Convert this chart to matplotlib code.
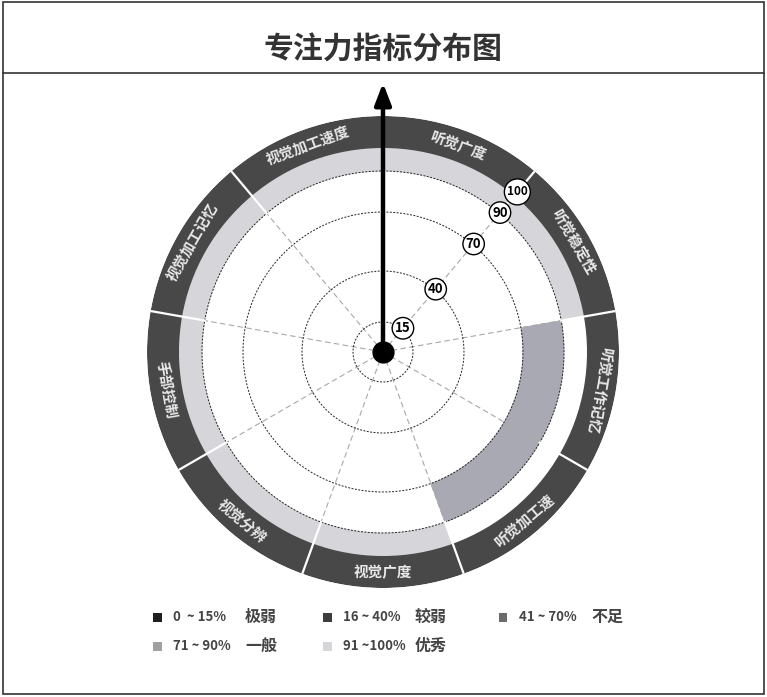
import numpy as np
import matplotlib.pyplot as plt
from matplotlib.patches import Rectangle
from matplotlib.lines import Line2D

plt.rcParams['font.family'] = ['Noto Sans CJK SC', 'DejaVu Sans']

# categories clockwise from 12 o'clock
categories = ['听觉广度', '听觉稳定性', '听觉工作记忆', '听觉加工速', '视觉广度',
              '视觉分辨', '手部控制', '视觉加工记忆', '视觉加工速度']
scores = [95, 95, 80, 80, 95, 95, 95, 95, 95]

level_edges = [0, 15, 40, 70, 90, 100]
level_names = ['极弱', '较弱', '不足', '一般', '优秀']
level_ranges = ['0  ~ 15%', '16 ~ 40%', '41 ~ 70%', '71 ~ 90%', '91 ~100%']
level_colors = ['#1f1f1f', '#3d3d3d', '#6b6b6b', '#a9a9b3', '#d6d6da']
scale_marks = [15, 40, 70, 90, 100]

# radial scale is not linear: each band has its own width
val_pts = [0, 15, 40, 70, 90, 100, 116]
rad_pts = [0, 30, 81, 140, 181, 204, 236]
def fwd(v):
    return np.interp(v, val_pts, rad_pts)
def inv(r):
    return np.interp(r, rad_pts, val_pts)

W, H = 767, 697
fig = plt.figure(figsize=(W/100, H/100), dpi=100)
ax = fig.add_axes([(383-236)/W, (H-352-236)/H, 472/W, 472/H], projection='polar')
ax.set_theta_zero_location('N')
ax.set_theta_direction(-1)
ax.set_rscale('function', functions=(fwd, inv))
ax.set_ylim(0, 116)
ax.axis('off')

n = len(categories)
width = 2*np.pi/n
starts = np.arange(n)*width
centers = starts + width/2

# outer dark ring
ax.bar(starts, 16, width=width, bottom=100, align='edge',
       color='#484848', linewidth=0, zorder=3)

# score bands
lvl = np.digitize(scores, level_edges[1:-1], right=True)
bot = np.array(level_edges)[lvl]
top = np.array(level_edges)[lvl+1]
cols = [level_colors[i] for i in lvl]
ax.bar(starts, top-bot, width=width, bottom=bot, align='edge',
       color=cols, edgecolor=cols, linewidth=0.5, zorder=2)

# separators through the rings
for a in starts:
    ax.plot([a, a], [90, 116], color='white', lw=1.6, zorder=4)

# grid
for a in starts:
    ax.plot([a, a], [0, 90], color='#a8a8a8', ls=(0, (5, 3)), lw=0.8, zorder=2.5)
th = np.linspace(0, 2*np.pi, 400)
for m in scale_marks[:-1]:
    ax.plot(th, np.full_like(th, m), color='#222222', ls=(0, (2, 1.5)), lw=0.7, zorder=2.6)

for m in scale_marks:
    r = inv(fwd(m) + (5 if m == 100 else 1))
    ax.text(np.deg2rad(40), r, str(m), ha='center', va='center',
            fontsize=8.5 if m == 100 else 9.5,
            fontweight='bold', color='black', zorder=6,
            bbox=dict(boxstyle='circle,pad=0.22', fc='white', ec='black', lw=1))

# ring labels
for c, name in zip(centers, categories):
    d = np.rad2deg(c)
    rot = 180-d if 110 < d < 270 else -d
    ax.text(c, 108, name, rotation=rot, rotation_mode='anchor', ha='center', va='center',
            color='#e8e8e8', fontsize=10.5, fontweight='bold', zorder=5)

# pointer
ax.annotate('', xy=(0.5, 0.5+269/472), xytext=(0.5, 0.5), xycoords='axes fraction',
            arrowprops=dict(arrowstyle='-|>,head_length=1.3,head_width=0.5', color='black',
                            lw=3.2, shrinkA=0, shrinkB=0), annotation_clip=False, zorder=8)
ax.plot(0, 0, 'o', color='black', ms=15, zorder=9, clip_on=False)

# title and frame
fig.text(383/W, 1-50/H, '专注力指标分布图', ha='center', va='center', fontsize=21.5,
         fontweight='bold', color='#333333')
fig.add_artist(Rectangle((3/W, 3/H), 761/W, 692/H, transform=fig.transFigure,
                         fill=False, ec='#333333', lw=1.2))
fig.add_artist(Line2D([3/W, 764/W], [(H-73)/H]*2, color='#333333', lw=1.2))

# legend
col_x = [157, 327, 503]
row_y = [617, 646]
for i in range(len(level_names)):
    x0 = col_x[i % 3]
    y0 = row_y[i // 3]
    fig.add_artist(Rectangle(((x0-4.5)/W, (H-y0-4.5)/H), 9/W, 9/H, transform=fig.transFigure,
                             color=level_colors[i] if i != 3 else '#a0a0a0', lw=0))
    fig.text((x0+16)/W, 1-y0/H, level_ranges[i], ha='left', va='center', fontsize=9.5,
             color='#444444', fontweight='bold')
    fig.text((x0+88)/W, 1-y0/H, level_names[i], ha='left', va='center', fontsize=11.5,
             color='#444444', fontweight='bold')

fig.savefig('out.png', dpi=100)
